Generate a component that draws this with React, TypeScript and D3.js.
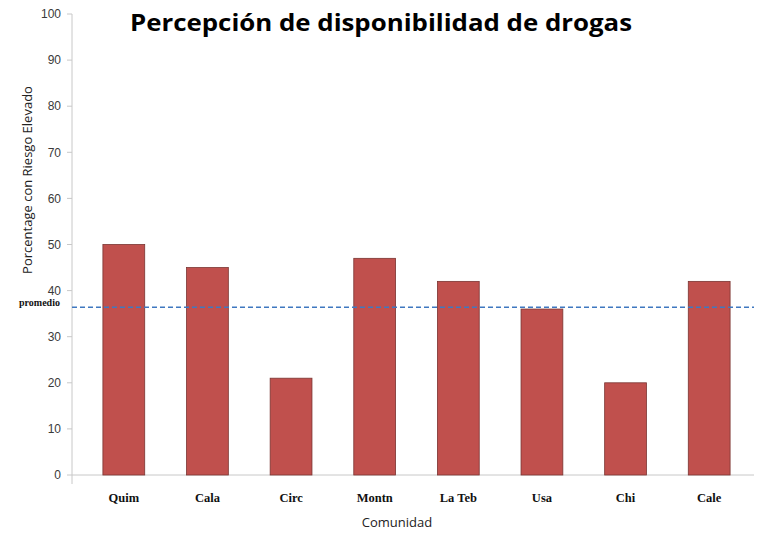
import React from "react";
import * as d3 from "d3";

const categories = ["Quim", "Cala", "Circ", "Montn", "La Teb", "Usa", "Chi", "Cale"];
const values = [50, 45, 21, 47, 42, 36, 20, 42];
const average = 36.4;
const yTicks = [0, 10, 20, 30, 40, 50, 60, 70, 80, 90, 100];

export default function App() {
  const W = 767, H = 533;
  const axisX = 72;
  const x = d3.scaleBand<string>().domain(categories).range([82, 751]).paddingInner(0.5).paddingOuter(0.25);
  const y = d3.scaleLinear().domain([0, 100]).range([475, 14]);
  const sans = "Liberation Sans, Arial, sans-serif";
  const serif = "Liberation Serif, Times New Roman, serif";
  return (
    <svg width={W} height={H} style={{ position: "absolute", left: 0, top: 0, background: "#fff" }}>
      {/* y axis */}
      <line x1={axisX} x2={axisX} y1={y(100)} y2={y(0) + 9} stroke="#c8c8c8" strokeWidth={1} />
      {yTicks.map((t) => (
        <g key={t}>
          <line x1={axisX - 5} x2={axisX} y1={y(t)} y2={y(t)} stroke="#c8c8c8" />
          <text x={61} y={y(t)} dy="0.35em" textAnchor="end" fontFamily={sans} fontSize={12} fill="#3a3a3a">
            {t}
          </text>
        </g>
      ))}
      {/* x axis */}
      <line x1={axisX} x2={754} y1={y(0)} y2={y(0)} stroke="#c8c8c8" />
      {categories.map((c, i) => (
        <g key={c}>
          <rect
            x={x(c)}
            y={y(values[i])}
            width={x.bandwidth()}
            height={y(0) - y(values[i])}
            fill="#C0504D"
            stroke="#7a3532"
            strokeWidth={0.8}
          />
          <text x={(x(c) as number) + x.bandwidth() / 2} y={502} textAnchor="middle" fontFamily={serif} fontWeight="bold" fontSize={12.5} fill="#111">
            {c}
          </text>
        </g>
      ))}
      {/* average line */}
      <line x1={axisX} x2={754} y1={y(average)} y2={y(average)} stroke="#3f78c0" strokeWidth={1.4} strokeDasharray="5,3" />
      <text x={19} y={y(average) - 1} fontFamily={serif} fontWeight="bold" fontSize={10} fill="#111">promedio</text>
      {/* titles */}
      <text x={130} y={31} textLength={502} lengthAdjust="spacingAndGlyphs" fontFamily="Open Sans, sans-serif" fontWeight="bold" fontSize={24} fill="#000">
        Percepción de disponibilidad de drogas
      </text>
      <text transform={`translate(32,180) rotate(-90)`} textAnchor="middle" fontFamily="Open Sans, sans-serif" fontSize={13} fill="#222">
        Porcentage con Riesgo Elevado
      </text>
      <text x={397} y={527} textAnchor="middle" fontFamily="Open Sans, sans-serif" fontSize={13} fill="#222">Comunidad</text>
    </svg>
  );
}
